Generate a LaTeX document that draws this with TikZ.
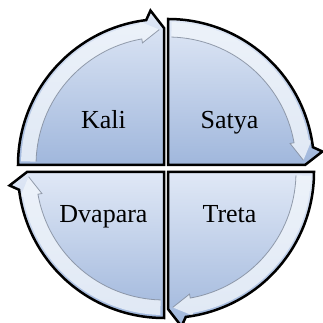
\documentclass[tikz,border=0pt]{standalone}
\usepackage{fontspec}
\setmainfont{Liberation Serif}
\definecolor{segtop}{RGB}{224,232,246}
\definecolor{segbot}{RGB}{160,183,220}
\definecolor{bandc}{RGB}{240,245,251}
\definecolor{bandline}{RGB}{125,135,152}
\begin{document}
\begin{tikzpicture}[x=1pt,y=1pt,
  segfill/.style={top color=segtop, bottom color=segbot, draw=none},
  segline/.style={draw=black, line width=2.5pt, line join=miter, miter limit=6},
  band/.style={fill=bandc, fill opacity=0.8},
  bandedge/.style={draw=bandline, line width=0.8pt, draw opacity=0.8},
  lbl/.style={font=\fontsize{26}{30}\selectfont, anchor=base, text=black}]
\useasboundingbox (0,0) rectangle (322,323);
\foreach \cx/\cy/\a in {164/158/180, 168/158/90, 168/151/0, 164/151/-90} {
  \begin{scope}[shift={(\cx,\cy)}]
    \shade[segfill] (0,0) -- (\a:146) arc[start angle=\a, end angle=\a-83, radius=146]
      -- (\a-85:155) -- (\a-90:137) -- cycle;
    \path[band] (\a-1.5:143) arc[start angle=\a-1.5, end angle=\a-80, radius=143]
      -- (\a-80:146) -- (\a-88:135.5) -- (\a-80:124) -- (\a-80:128)
      arc[start angle=\a-80, end angle=\a-1.5, radius=128] -- cycle;
    \draw[bandedge] (\a-1.5:128) arc[start angle=\a-1.5, end angle=\a-80, radius=128]
      -- (\a-80:124) -- (\a-88:135.5);
    \draw[segline] (0,0) -- (\a:146) arc[start angle=\a, end angle=\a-83, radius=146]
      -- (\a-85:155) -- (\a-90:137) -- cycle;
  \end{scope}
}
\node[lbl] (kali) at (103.5,194) {Kali};
\node[lbl] (satya) at (229.5,194) {Satya};
\node[lbl] (dvapara) at (103.5,100) {Dvapara};
\node[lbl] (treta) at (229.5,100) {Treta};
\end{tikzpicture}
\end{document}
